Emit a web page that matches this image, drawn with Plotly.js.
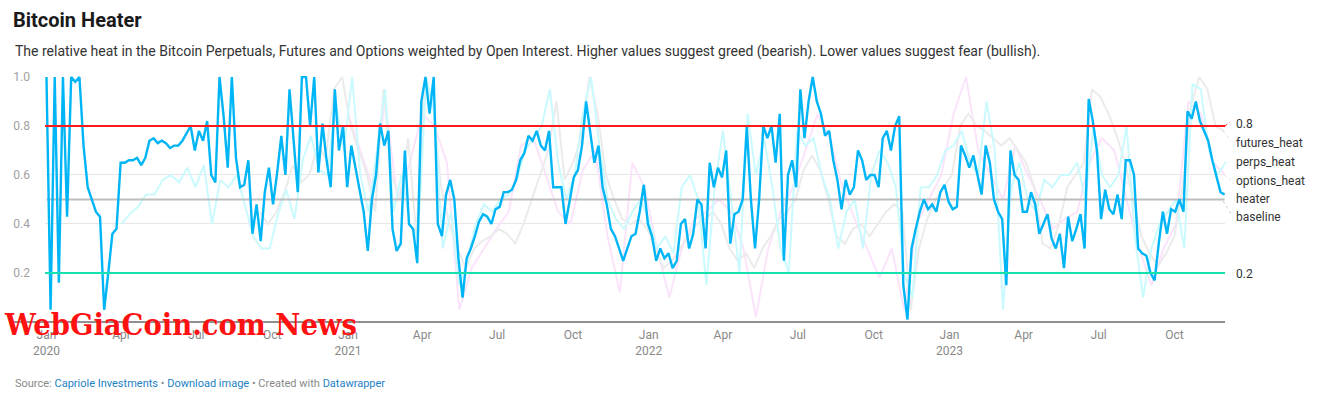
<!DOCTYPE html>
<html>
<head>
<meta charset="utf-8">
<script src="https://cdn.plot.ly/plotly-3.0.1.min.js"></script>
<style>
html,body{margin:0;padding:0;background:#fff;}
#chart{width:1322px;height:406px;}
</style>
</head>
<body>
<div id="chart"></div>
<script>
// ---------- DATA ----------
// heater: one value every 5 days from 2020-01-01
const heaterStart = '2020-01-01';
const heaterStepDays = 5;
const heater = [
1.0,0.05,1.0,0.16,1.0,0.43,1.0,0.98,1.0,0.72,
0.55,0.5,0.45,0.43,0.05,0.2,0.36,0.38,0.65,0.65,
0.66,0.66,0.67,0.64,0.67,0.74,0.75,0.73,0.74,0.73,
0.71,0.72,0.72,0.74,0.77,0.8,0.7,0.78,0.74,0.82,
0.6,0.57,1.0,0.84,0.63,1.0,0.67,0.55,0.56,0.66,
0.36,0.48,0.33,0.53,0.63,0.48,0.61,0.76,0.6,0.95,
0.74,0.53,1.0,1.0,0.8,1.0,0.61,0.81,0.66,0.55,
0.95,0.7,0.8,0.55,0.72,0.63,0.55,0.45,0.29,0.5,
0.6,0.81,0.72,0.78,0.38,0.29,0.32,0.7,0.4,0.38,
0.24,0.9,1.0,0.85,1.0,0.4,0.35,0.52,0.58,0.5,
0.26,0.1,0.26,0.3,0.35,0.41,0.44,0.43,0.4,0.46,
0.47,0.53,0.53,0.54,0.58,0.66,0.69,0.76,0.74,0.78,
0.72,0.7,0.78,0.55,0.55,0.55,0.4,0.5,0.59,0.62,
0.72,0.9,0.78,0.65,0.72,0.55,0.48,0.38,0.35,0.3,
0.25,0.3,0.35,0.36,0.45,0.56,0.4,0.35,0.25,0.3,
0.26,0.28,0.22,0.25,0.4,0.42,0.3,0.36,0.5,0.48,
0.3,0.65,0.55,0.63,0.59,0.7,0.32,0.44,0.45,0.5,
0.8,0.5,0.3,0.5,0.8,0.75,0.8,0.65,0.85,0.25,
0.6,0.66,0.55,0.95,0.75,0.9,1.0,0.9,0.85,0.76,
0.78,0.66,0.58,0.46,0.58,0.52,0.55,0.7,0.66,0.58,
0.6,0.6,0.55,0.75,0.78,0.7,0.8,0.84,0.15,0.01,
0.3,0.38,0.45,0.5,0.46,0.48,0.45,0.53,0.56,0.49,
0.46,0.47,0.72,0.68,0.63,0.68,0.6,0.52,0.72,0.65,
0.5,0.45,0.42,0.15,0.7,0.6,0.58,0.45,0.45,0.53,
0.48,0.36,0.4,0.44,0.34,0.3,0.36,0.22,0.43,0.33,
0.38,0.44,0.3,0.91,0.82,0.7,0.42,0.54,0.46,0.44,
0.52,0.42,0.66,0.66,0.6,0.3,0.28,0.27,0.2,0.17,
0.32,0.45,0.36,0.46,0.45,0.5,0.45,0.86,0.83,0.9,
0.82,0.78,0.74,0.66,0.6,0.53,0.52
];

// perps_heat: one value every 10 days from 2020-04-01
const perpsStart = '2020-04-01';
const perpsStepDays = 10;
const perpsHeat = [
0.4,0.44,0.47,0.52,0.52,0.58,0.6,0.57,0.63,0.55,
0.64,0.4,0.58,0.55,0.6,0.48,0.35,0.3,0.3,0.44,
0.54,0.42,0.66,0.76,0.62,0.6,0.9,0.7,1.0,0.6,
0.45,0.7,0.95,0.45,0.6,0.4,0.35,1.0,0.85,0.3,
0.45,0.15,0.25,0.4,0.48,0.45,0.5,0.52,0.58,0.7,
0.75,0.8,0.95,0.65,0.5,0.6,0.85,1.0,0.72,0.5,
0.42,0.38,0.45,0.5,0.42,0.3,0.35,0.28,0.55,0.6,
0.5,0.15,0.55,0.78,0.5,0.2,0.85,0.6,0.75,0.55,
0.3,0.2,0.78,0.72,0.75,0.6,0.5,0.3,0.45,0.5,
0.3,0.6,0.7,0.65,0.55,0.2,0.1,0.55,0.55,0.6,
0.7,0.72,0.78,0.65,0.6,0.9,0.7,0.05,0.55,0.65,
0.5,0.45,0.58,0.55,0.6,0.6,0.65,0.5,0.8,0.6,
0.55,0.6,0.8,0.35,0.1,0.3,0.4,0.45,0.5,0.3,
0.97,0.95,0.7,0.6,0.65
];

// futures_heat: one value every 10 days from 2020-09-16
const futuresStart = '2020-09-16';
const futuresStepDays = 10;
const futuresHeat = [
0.45,0.4,0.45,0.53,0.64,0.57,0.6,0.72,0.67,0.95,
1.0,0.8,0.7,0.6,0.45,0.95,0.6,0.5,0.75,0.35,
0.95,0.9,0.55,0.4,0.3,0.22,0.3,0.33,0.35,0.38,
0.36,0.32,0.4,0.5,0.6,0.7,0.9,0.58,0.65,0.75,
1.0,0.85,0.6,0.5,0.42,0.4,0.42,0.38,0.3,0.22,
0.25,0.3,0.35,0.4,0.42,0.45,0.4,0.3,0.25,0.28,
0.22,0.3,0.35,0.42,0.45,0.5,0.62,0.68,0.62,0.5,
0.35,0.32,0.38,0.4,0.35,0.4,0.45,0.48,0.45,0.05,
0.3,0.42,0.5,0.55,0.6,0.8,0.85,0.8,0.78,0.75,
0.72,0.75,0.7,0.65,0.55,0.32,0.3,0.4,0.55,0.6,
0.65,0.95,0.92,0.85,0.76,0.65,0.5,0.35,0.28,0.23,
0.28,0.35,0.55,0.88,1.0,0.95,0.8,0.78
];

// options_heat: one value every 15 days from 2021-01-01
const optionsStart = '2021-01-01';
const optionsStepDays = 15;
const optionsHeat = [
0.85,0.7,0.55,0.9,0.5,0.65,0.85,0.8,0.65,0.05,
0.22,0.3,0.38,0.45,0.72,0.75,0.6,0.45,0.4,0.62,
0.7,0.35,0.12,0.65,0.55,0.3,0.1,0.3,0.42,0.45,
0.5,0.45,0.3,0.02,0.3,0.45,0.55,0.7,0.85,0.75,
0.55,0.42,0.3,0.18,0.3,0.05,0.4,0.5,0.6,0.85,
1.0,0.7,0.6,0.5,0.72,0.6,0.5,0.38,0.42,0.45,
0.65,0.75,0.7,0.5,0.3,0.15,0.3,0.4,0.9,0.85,
0.65,0.6
];

const baselineValue = 0.5;
const upperLevel = 0.8;
const lowerLevel = 0.2;

const tickDates = ['2020-01-01','2020-04-01','2020-07-01','2020-10-01',
  '2021-01-01','2021-04-01','2021-07-01','2021-10-01',
  '2022-01-01','2022-04-01','2022-07-01','2022-10-01',
  '2023-01-01','2023-04-01','2023-07-01','2023-10-01'];
const tickLabels = ['Jan<br>2020','Apr','Jul','Oct','Jan<br>2021','Apr','Jul','Oct',
  'Jan<br>2022','Apr','Jul','Oct','Jan<br>2023','Apr','Jul','Oct'];
const yTicks = [0.2,0.4,0.6,0.8,1.0];
const yTickLabels = ['0.2','0.4','0.6','0.8','1.0'];

const seriesNames = ['futures_heat','perps_heat','options_heat','heater','baseline'];

// ---------- helpers ----------
function dateSeries(start, stepDays, n){
  const t0 = Date.parse(start + 'T00:00:00Z');
  const out = [];
  for(let i=0;i<n;i++){
    out.push(new Date(t0 + i*stepDays*86400000).toISOString().slice(0,10));
  }
  return out;
}

const heaterX = dateSeries(heaterStart, heaterStepDays, heater.length);
const perpsX = dateSeries(perpsStart, perpsStepDays, perpsHeat.length);
const futuresX = dateSeries(futuresStart, futuresStepDays, futuresHeat.length);
const optionsX = dateSeries(optionsStart, optionsStepDays, optionsHeat.length);

const C_HEATER = '#00b5f5';
const C_PERPS = '#cbfafe';
const C_FUT = '#ebebeb';
const C_OPT = '#fbe4fb';
const C_BASE = '#bdbdbd';
const C_RED = '#ff1a1a';
const C_GREEN = '#16e0ae';

const traces = [
  {x: optionsX, y: optionsHeat, name: seriesNames[2], mode:'lines', line:{color:C_OPT, width:2}, hoverinfo:'skip'},
  {x: futuresX, y: futuresHeat, name: seriesNames[0], mode:'lines', line:{color:C_FUT, width:2}, hoverinfo:'skip'},
  {x: perpsX, y: perpsHeat, name: seriesNames[1], mode:'lines', line:{color:C_PERPS, width:2}, hoverinfo:'skip'},
  {x: [heaterX[0], heaterX[heaterX.length-1]], y: [baselineValue, baselineValue], name: seriesNames[4], mode:'lines', line:{color:C_BASE, width:2.2}, hoverinfo:'skip'},
  {x: heaterX, y: heater, name: seriesNames[3], mode:'lines', line:{color:C_HEATER, width:2.4}, hoverinfo:'skip'}
];

const FONT = 'Roboto, "Noto Sans", sans-serif';

// pixel helpers for placing text outside the plot (plot: x 45..1225, y 76..322)
const PL = 45, PR = 1225, PT = 76, PB = 322;
const px = x => (x - PL) / (PR - PL);
const py = y => (PB - y) / (PB - PT);

const labelX = px(1234);
const rightLabels = [
  {t:'0.8', y:py(124)},
  {t:seriesNames[0], y:py(143)},
  {t:seriesNames[1], y:py(162)},
  {t:seriesNames[2], y:py(181)},
  {t:seriesNames[3], y:py(199)},
  {t:seriesNames[4], y:py(217)},
  {t:'0.2', y:py(274)}
];

const annotations = rightLabels.map(l => ({
  xref:'paper', yref:'paper', x:labelX, y:l.y, xanchor:'left', yanchor:'middle',
  text:l.t, showarrow:false, font:{family:FONT, size:12, color:'#333333'}
}));

annotations.push({
  xref:'paper', yref:'paper', x:px(13), y:py(51), xanchor:'left', yanchor:'middle',
  text:'The relative heat in the Bitcoin Perpetuals, Futures and Options weighted by Open Interest. Higher values suggest greed (bearish). Lower values suggest fear (bullish).',
  showarrow:false, font:{family:FONT, size:14, color:'#333333'}
});
annotations.push({
  xref:'paper', yref:'paper', x:px(13), y:py(383), xanchor:'left', yanchor:'middle',
  text:'Source: <span style="color:#1d81c4">Capriole Investments</span> • <span style="color:#1d81c4">Download image</span> • Created with <span style="color:#1d81c4">Datawrapper</span>',
  showarrow:false, font:{family:FONT, size:11, color:'#888888'}
});
annotations.push({
  xref:'paper', yref:'paper', x:px(180), y:py(324), xanchor:'center', yanchor:'middle',
  text:'<b>WebGiaCoin.com News</b>',
  showarrow:false, font:{family:'"DejaVu Serif Condensed", "DejaVu Serif", serif', size:30.5, color:'#ff1111'}
});

const shapes = [
  // zero axis line (extends left like the reference)
  {type:'line', xref:'paper', yref:'paper', x0:px(9), x1:1, y0:0, y1:0, line:{color:'#222222', width:1.2}},
  {type:'line', xref:'paper', yref:'y', x0:0, x1:1, y0:upperLevel, y1:upperLevel, line:{color:C_RED, width:2.2}},
  {type:'line', xref:'paper', yref:'y', x0:0, x1:1, y0:lowerLevel, y1:lowerLevel, line:{color:C_GREEN, width:2.2}},
  // dotted label connectors
  {type:'line', xref:'paper', yref:'paper', x0:1, x1:px(1230), y0:py(126), y1:py(122), line:{color:C_RED, width:1, dash:'dot'}},
  {type:'line', xref:'paper', yref:'paper', x0:px(1223), x1:px(1231), y0:py(131), y1:py(141), line:{color:'#dddddd', width:1, dash:'dot'}},
  {type:'line', xref:'paper', yref:'paper', x0:px(1224), x1:px(1231), y0:py(163), y1:py(162), line:{color:'#bff4f8', width:1, dash:'dot'}},
  {type:'line', xref:'paper', yref:'paper', x0:px(1224), x1:px(1231), y0:py(175), y1:py(180), line:{color:'#f4d8f4', width:1, dash:'dot'}},
  {type:'line', xref:'paper', yref:'paper', x0:px(1223), x1:px(1232), y0:py(201), y1:py(215), line:{color:'#cccccc', width:1, dash:'dot'}}
];

const layout = {
  width:1322, height:406,
  margin:{l:PL, r:1322-PR, t:PT, b:406-PB, pad:0},
  paper_bgcolor:'#ffffff', plot_bgcolor:'#ffffff',
  showlegend:false,
  font:{family:FONT, color:'#333'},
  title:{text:'<b>Bitcoin Heater</b>', xref:'container', yref:'container', x:13/1322, xanchor:'left', y:1-20/406, yanchor:'middle',
         font:{family:FONT, size:20, color:'#1a1a1a'}},
  xaxis:{
    type:'date', range:['2019-12-30 05:00','2023-12-01 10:00'],
    tickvals:tickDates, ticktext:tickLabels, ticks:'', showgrid:false, zeroline:false, showline:false,
    tickfont:{family:FONT, size:12, color:'#888888'}, ticklabelstandoff:4, fixedrange:true
  },
  yaxis:{
    range:[0,1.004], tickvals:yTicks, ticktext:yTickLabels, ticks:'',
    showgrid:true, gridcolor:'#e6e6e6', gridwidth:1, zeroline:false, showline:false,
    tickfont:{family:FONT, size:12, color:'#a0a0a0'}, ticklabelstandoff:14, fixedrange:true
  },
  shapes:shapes,
  annotations:annotations
};

Plotly.newPlot('chart', traces, layout, {displayModeBar:false, staticPlot:true});
</script>
</body>
</html>
